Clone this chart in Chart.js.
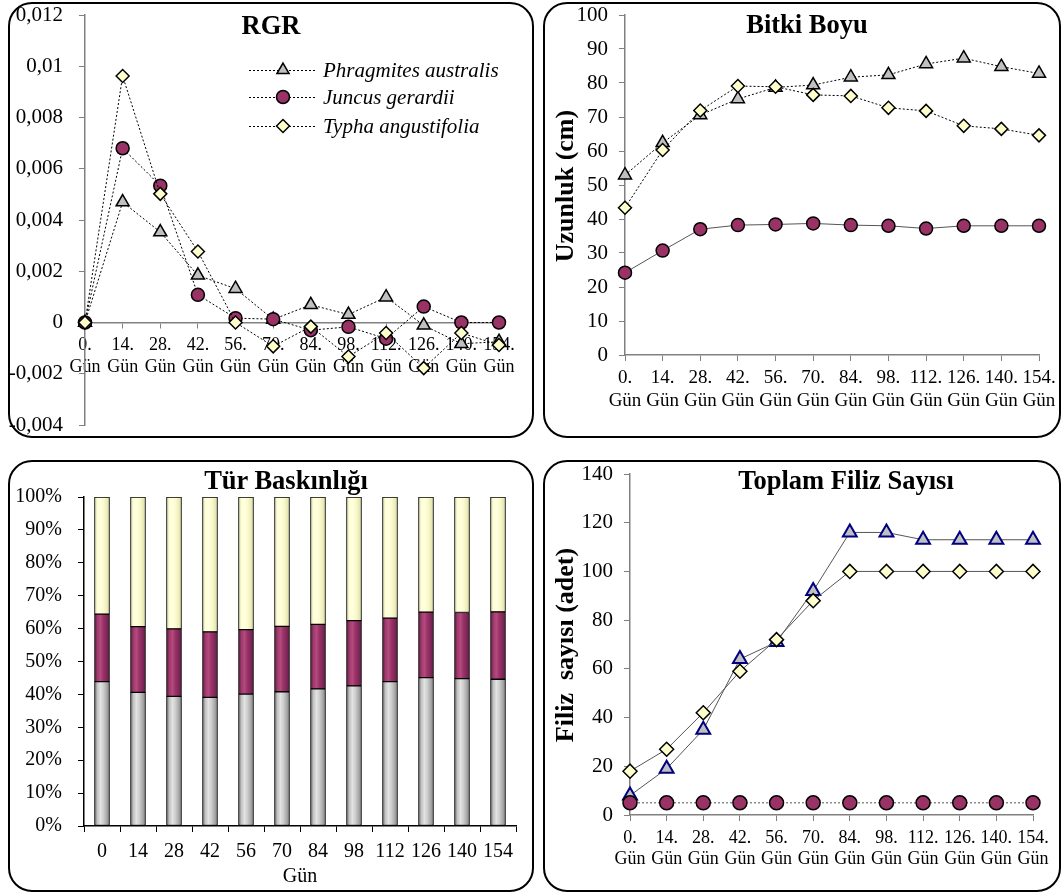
<!DOCTYPE html>
<html>
<head>
<meta charset="utf-8">
<script src="https://cdn.jsdelivr.net/npm/chart.js@4.4.1/dist/chart.umd.min.js"></script>
<style>
  html, body { margin: 0; padding: 0; background: #fff; }
  body { width: 1062px; height: 894px; position: relative; overflow: hidden;
         font-family: "Liberation Serif", "Times New Roman", serif; color: #000; }
  .panel { position: absolute; box-sizing: border-box; border: 2px solid #000; border-radius: 24px; }
  canvas.cv { position: absolute; }
  .title { position: absolute; font-weight: bold; font-size: 26.5px; line-height: 1;
           transform: translate(-50%, -50%); white-space: pre; }
  .ytitle { position: absolute; font-weight: bold; font-size: 26px; line-height: 1;
            transform: translate(-50%, -50%) rotate(-90deg); white-space: pre; }
  .xtitle { position: absolute; font-size: 20px; line-height: 1;
            transform: translate(-50%, -50%); white-space: pre; }
</style>
</head>
<body>
<div class="panel" style="left:8px;top:2px;width:526px;height:436px"></div>
<div class="panel" style="left:543px;top:2px;width:518px;height:436px"></div>
<div class="panel" style="left:8px;top:460px;width:526px;height:432px"></div>
<div class="panel" style="left:543px;top:460px;width:518px;height:432px"></div>

<canvas id="c1" class="cv" width="526" height="436" style="left:8px;top:2px"></canvas>
<canvas id="c2" class="cv" width="518" height="436" style="left:543px;top:2px"></canvas>
<canvas id="c3" class="cv" width="526" height="432" style="left:8px;top:460px"></canvas>
<canvas id="c4" class="cv" width="518" height="432" style="left:543px;top:460px"></canvas>

<div class="title" style="left:271px;top:25px">RGR</div>
<div class="title" style="left:807px;top:24px">Bitki Boyu</div>
<div class="title" style="left:286px;top:480px">Tür Baskınlığı</div>
<div class="title" style="left:846px;top:480px">Toplam Filiz Sayısı</div>
<div class="ytitle" style="left:565px;top:186px">Uzunluk (cm)</div>
<div class="ytitle" style="left:565px;top:645px">Filiz  sayısı (adet)</div>
<div class="xtitle" style="left:300px;top:875px">Gün</div>

<script>
// ---------------- DATA ----------------
const seriesNames = ['Phragmites australis', 'Juncus gerardii', 'Typha angustifolia'];
const dayTicks = ['0.', '14.', '28.', '42.', '56.', '70.', '84.', '98.', '112.', '126.', '140.', '154.'];
const dayUnit = 'Gün';
const barDays = ['0', '14', '28', '42', '56', '70', '84', '98', '112', '126', '140', '154'];

const rgrPhragmites = [0, 0.0047, 0.00353, 0.00184, 0.00132, 0.00012, 0.00069, 0.00031, 0.00099, -0.00011, -0.00083, -0.00075];
const rgrJuncus     = [0, 0.0068, 0.00534, 0.00108, 0.00017, 0.00013, -0.00030, -0.00017, -0.00063, 0.00062, 0, 0];
const rgrTypha      = [0, 0.00962, 0.00502, 0.00277, 0, -0.00093, -0.00016, -0.00133, -0.00041, -0.00178, -0.00041, -0.00088];

const boyPhragmites = [52.9, 62.4, 70.6, 75.3, 78.7, 79.4, 81.7, 82.4, 85.6, 87.3, 84.8, 82.8];
const boyJuncus     = [24.2, 30.7, 37.0, 38.2, 38.4, 38.7, 38.2, 38.0, 37.2, 38.0, 38.0, 38.0];
const boyTypha      = [43.3, 60.3, 71.9, 79.1, 78.9, 76.5, 76.2, 72.7, 71.8, 67.4, 66.5, 64.6];

const domPhragmites = [43.9, 40.6, 39.4, 39.1, 40.1, 40.8, 41.7, 42.6, 43.9, 45.1, 44.8, 44.6];
const domJuncus     = [20.5, 20.0, 20.5, 19.9, 19.6, 19.9, 19.6, 19.8, 19.3, 19.9, 20.1, 20.5];
const domTypha      = [35.6, 39.4, 40.1, 41.0, 40.3, 39.3, 38.7, 37.6, 36.8, 35.0, 35.1, 34.9];

const filizPhragmites = [8, 19, 35, 64, 71, 92, 116, 116, 113, 113, 113, 113];
const filizJuncus     = [5, 5, 5, 5, 5, 5, 5, 5, 5, 5, 5, 5];
const filizTypha      = [18, 27, 42, 59, 72, 88, 100, 100, 100, 100, 100, 100];

const rgrTickStep = 0.002, boyTickStep = 10, domTickStep = 10, filizTickStep = 20;

// ---------------- STYLE ----------------
Chart.defaults.font.family = '"Liberation Serif", "Times New Roman", serif';
Chart.defaults.color = '#000';
const dayLabels = dayTicks.map(d => [d, dayUnit]);
const GRAY = '#c0c0c0', PLUM = '#993366', CREAM = '#ffffcc';
const AXIS = '#808080';

function noPad(s) { s.paddingTop = 0; s.paddingBottom = 0; s.paddingLeft = 0; s.paddingRight = 0; }

function lineDs(label, data, kind, opts) {
  const base = {
    label, data,
    pointStyle: kind === 'P' ? 'triangle' : kind === 'J' ? 'circle' : 'rectRot',
    pointBackgroundColor: kind === 'P' ? GRAY : kind === 'J' ? PLUM : CREAM,
    pointBorderColor: '#000',
    pointBorderWidth: 1.5,
    pointRadius: kind === 'P' ? 7.5 : kind === 'J' ? 6.5 : 6.5,
    borderColor: '#000',
    borderWidth: 1,
    borderDash: [2, 2],
    tension: 0,
    fill: false,
    clip: false,
    order: kind === 'P' ? 3 : kind === 'J' ? 2 : 1
  };
  return Object.assign(base, opts || {});
}

function yAxis(min, max, step, width, pad, fontSize, cb, color) {
  return {
    min, max,
    ticks: { stepSize: step, padding: pad, font: { size: fontSize }, color: '#000',
             callback: cb || (v => v) },
    grid: { drawOnChartArea: false, drawTicks: true, tickLength: 6, color: color || AXIS, lineWidth: 1 },
    border: { display: true, color: color || AXIS, width: 1.5 },
    afterFit(s) { s.width = width; noPad(s); }
  };
}

function xAxisBottom(labels, height, pad, fontSize) {
  return {
    type: 'category', labels,
    ticks: { autoSkip: false, maxRotation: 0, minRotation: 0, padding: pad, font: { size: fontSize }, color: '#000' },
    grid: { drawOnChartArea: false, drawTicks: true, tickLength: 6, color: AXIS, lineWidth: 1 },
    border: { display: true, color: AXIS, width: 1.5 },
    afterFit(s) { s.height = height; noPad(s); }
  };
}

const baseOpts = {
  responsive: false, animation: false, devicePixelRatio: 1,
  plugins: { legend: { display: false }, tooltip: { enabled: false }, title: { display: false } },
  events: []
};

// legend drawn inside the RGR plot area
const rgrLegend = {
  id: 'rgrLegend',
  afterDraw(chart) {
    const ctx = chart.ctx;
    const rows = [68, 95, 124];
    const x1 = 241, x2 = 308, mx = 275, tx = 315;
    chart.data.datasets.forEach((ds, i) => {
      const y = rows[i];
      ctx.save();
      ctx.strokeStyle = ds.borderColor; ctx.lineWidth = 1; ctx.setLineDash([2, 2]);
      ctx.beginPath(); ctx.moveTo(x1, y + 0.5); ctx.lineTo(x2, y + 0.5); ctx.stroke();
      ctx.setLineDash([]);
      ctx.fillStyle = ds.pointBackgroundColor; ctx.strokeStyle = '#000'; ctx.lineWidth = 1.5;
      Chart.helpers.drawPoint(ctx, { pointStyle: ds.pointStyle, radius: ds.pointStyle === 'triangle' ? 7 : 6.5, rotation: 0, borderWidth: 1.5 }, mx, y);
      ctx.fillStyle = '#000';
      ctx.font = 'italic 21px "Liberation Serif", "Times New Roman", serif';
      ctx.textBaseline = 'middle'; ctx.textAlign = 'left';
      ctx.fillText(ds.label, tx, y + 1);
      ctx.restore();
    });
  }
};

// ---------------- CHART 1 : RGR ----------------
new Chart(document.getElementById('c1'), {
  type: 'line',
  data: {
    labels: dayLabels,
    datasets: [
      lineDs(seriesNames[0], rgrPhragmites, 'P'),
      lineDs(seriesNames[1], rgrJuncus, 'J'),
      lineDs(seriesNames[2], rgrTypha, 'T')
    ]
  },
  options: Object.assign({}, baseOpts, {
    layout: { autoPadding: false, padding: { top: 13, right: 35, bottom: 13, left: 0 } },
    scales: {
      x: {
        type: 'category', position: { y: 0 },
        ticks: { autoSkip: false, maxRotation: 0, minRotation: 0, padding: 7, font: { size: 18 }, color: '#000' },
        grid: { drawOnChartArea: false, drawTicks: true, tickLength: 5, color: AXIS, lineWidth: 1 },
        border: { display: true, color: AXIS, width: 1.5 },
        afterFit(s) { noPad(s); }
      },
      y: yAxis(-0.004, 0.012, rgrTickStep, 77, 16, 21,
        v => { const s = parseFloat(v.toFixed(4)); return s === 0 ? '0' : String(s).replace('.', ','); })
    }
  }),
  plugins: [rgrLegend]
});

// ---------------- CHART 2 : Bitki Boyu ----------------
new Chart(document.getElementById('c2'), {
  type: 'line',
  data: {
    labels: dayLabels,
    datasets: [
      lineDs(seriesNames[0], boyPhragmites, 'P'),
      lineDs(seriesNames[1], boyJuncus, 'J', { borderDash: [], borderColor: '#555' }),
      lineDs(seriesNames[2], boyTypha, 'T')
    ]
  },
  options: Object.assign({}, baseOpts, {
    layout: { autoPadding: false, padding: { top: 13, right: 22, bottom: 23, left: 0 } },
    scales: {
      x: xAxisBottom(dayLabels, 60, 6, 19),
      y: yAxis(0, 100, boyTickStep, 82, 11, 21)
    }
  })
});

// ---------------- CHART 3 : Tür Baskınlığı ----------------
function barFill(stops) {
  return (c) => {
    const ch = c.chart, xs = ch.scales && ch.scales.x;
    if (c.type !== 'data' || !xs || !ch.chartArea) return stops[Math.floor(stops.length / 2)];
    const cx = xs.getPixelForValue(c.dataIndex);
    const half = 7.5;
    const g = ch.ctx.createLinearGradient(cx - half, 0, cx + half, 0);
    stops.forEach((col, i) => g.addColorStop(i / (stops.length - 1), col));
    return g;
  };
}
const grayStops  = ['#6e6e6e', '#c4c4c4', '#e2e2e2', '#cccccc', '#acacac', '#808080'];
const plumStops  = ['#5a183c', '#a03a6e', '#b24a80', '#9a3266', '#82285a', '#5e1a40'];
const creamStops = ['#d4d4a8', '#ffffd6', '#ffffe2', '#fbfbcc', '#eeeebe', '#d4d4a8'];

function barDs(label, data, stops) {
  return { label, data, backgroundColor: barFill(stops), borderColor: '#000', borderWidth: 1,
           borderSkipped: false, barThickness: 15, stack: 's' };
}

new Chart(document.getElementById('c3'), {
  type: 'bar',
  data: {
    labels: barDays,
    datasets: [
      barDs(seriesNames[0], domPhragmites, grayStops),
      barDs(seriesNames[1], domJuncus, plumStops),
      barDs(seriesNames[2], domTypha, creamStops)
    ]
  },
  options: Object.assign({}, baseOpts, {
    layout: { autoPadding: false, padding: { top: 37, right: 18, bottom: 26, left: 0 } },
    scales: {
      x: {
        type: 'category', stacked: true, offset: true,
        ticks: { autoSkip: false, maxRotation: 0, minRotation: 0, padding: 8, font: { size: 20 }, color: '#000' },
        grid: { offset: true, drawOnChartArea: false, drawTicks: true, tickLength: 6, color: '#000', lineWidth: 1 },
        border: { display: true, color: '#000', width: 1.5 },
        afterFit(s) { s.height = 40; noPad(s); }
      },
      y: Object.assign(yAxis(0, 100, domTickStep, 76, 16, 20, v => v + '%', '#000'), { stacked: true })
    }
  })
});

// ---------------- CHART 4 : Toplam Filiz Sayısı ----------------
new Chart(document.getElementById('c4'), {
  type: 'line',
  data: {
    labels: dayLabels,
    datasets: [
      lineDs(seriesNames[0], filizPhragmites, 'P', { borderDash: [], borderColor: '#555', pointBorderColor: '#000080', pointBorderWidth: 2, pointRadius: 8 }),
      lineDs(seriesNames[1], filizJuncus, 'J', { borderColor: '#555', pointRadius: 7 }),
      lineDs(seriesNames[2], filizTypha, 'T', { borderDash: [], borderColor: '#555', pointRadius: 7 })
    ]
  },
  options: Object.assign({}, baseOpts, {
    layout: { autoPadding: false, padding: { top: 14, right: 28, bottom: 27, left: 0 } },
    scales: {
      x: xAxisBottom(dayLabels, 50, 6, 18),
      y: yAxis(0, 140, filizTickStep, 87, 11, 21)
    }
  })
});
</script>
</body>
</html>
